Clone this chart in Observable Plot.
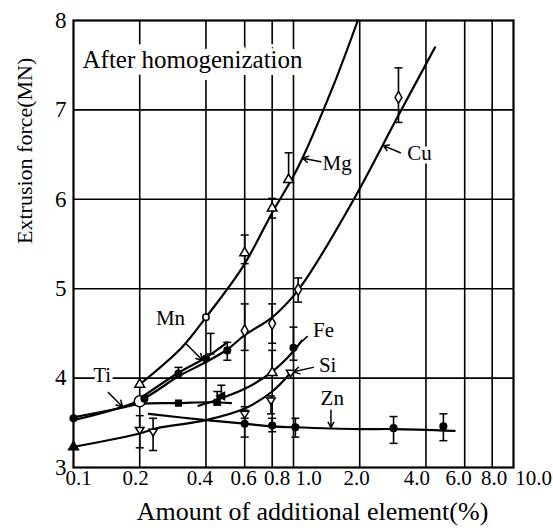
<!DOCTYPE html>
<html><head><meta charset="utf-8">
<script src="https://cdn.jsdelivr.net/npm/d3@7"></script>
<script src="https://cdn.jsdelivr.net/npm/@observablehq/plot@0.6"></script>
<style>body{margin:0;background:#fff;} svg text{font-family:"Liberation Serif","Times New Roman",serif;}</style>
</head><body><div id="chart"></div>
<script>
// ---- axis ticks ----
const xTicks = [0.1, 0.2, 0.4, 0.6, 0.8, 1, 2, 4, 6, 8, 10];
const xTickLabels = ["0.1", "0.2", "0.4", "0.6", "0.8", "1.0", "2.0", "4.0", "6.0", "8.0", "10.0"];
const xGrid = [0.2, 0.4, 0.6, 0.8, 1, 2, 4, 6, 8];
const yTicks = [3, 4, 5, 6, 7, 8];
const yTickLabels = ["3", "4", "5", "6", "7", "8"];
const yGrid = [4, 5, 6, 7];

// ---- curves [amount %, force MN] ----
const mgLine = [[0.2,3.93],[0.31,4.34],[0.4,4.68],[0.59,5.25],[0.8,5.85],[1.05,6.36],[1.5,7.24],[1.96,8.0]];
const cuLine = [[0.1,3.53],[0.2,3.75],[0.3,4.02],[0.4,4.18],[0.5,4.32],[0.6,4.48],[0.8,4.68],[1.0,4.92],[1.17,5.15],[1.9,6.02],[2.97,6.92],[4.4,7.7]];
const mnLine = [[0.2,3.77],[0.3,4.06],[0.4,4.23],[0.5,4.4]];
const tiLine = [[0.1,3.56],[0.16,3.66],[0.2,3.71],[0.3,3.72],[0.42,3.73],[0.52,3.72]];
const feLine = [[0.37,3.69],[0.44,3.75],[0.6,3.88],[0.79,4.06],[1.0,4.3],[1.09,4.42]];
const siLine = [[0.1,3.23],[0.2,3.38],[0.24,3.44],[0.4,3.53],[0.6,3.66],[0.8,3.85],[0.97,4.06]];
const znLine = [[0.22,3.6],[0.4,3.53],[0.6,3.49],[0.8,3.46],[1.0,3.45],[2.0,3.43],[2.85,3.43],[5.4,3.41]];

// ---- measured points by marker kind ----
const openTriangles = [[0.2,3.93],[0.6,5.4],[0.8,5.9],[0.95,6.22],[0.8,4.06]];
const openDiamonds = [[0.6,4.53],[0.8,4.61],[1.05,4.99],[3.0,7.14]];
const openCircles = [[0.4,4.68]];
const bigOpenCircles = [[0.2,3.74]];
const filledCircles = [[0.1,3.55],[0.21,3.77],[0.3,4.05],[0.4,4.22],[0.5,4.31],[1.0,4.34],[0.6,3.49],[0.8,3.47],[1.02,3.45],[2.85,3.44],[4.8,3.46]];
const filledSquares = [[0.3,3.72],[0.45,3.73]];
const filledTriangles = [[0.1,3.23]];
const openInvTriangles = [[0.2,3.42],[0.23,3.40],[0.6,3.6],[0.79,3.75],[0.97,4.06]];
const leftTriangles = [[0.47,3.8]];

// ---- error bars [x, low, high] ----
const errorBars = [
  [0.6,5.28,5.6],[0.8,5.79,6.01],[0.95,6.22,6.52],
  [0.6,4.31,4.83],[0.8,4.39,4.83],[1.05,4.85,5.12],[3.0,6.86,7.47],
  [0.3,4.0,4.12],[0.42,4.27,4.5],[0.5,4.2,4.4],
  [0.47,3.78,3.92],[0.8,4.06,4.31],[1.0,4.2,4.57],
  [0.2,3.22,3.58],[0.23,3.19,3.55],[0.6,3.55,3.68],[0.79,3.6,3.8],
  [0.6,3.34,3.64],[0.8,3.4,3.55],[1.02,3.34,3.55],[2.85,3.27,3.57],[4.8,3.3,3.6],
  [0.45,3.7,3.85]
];

// ---- labels ----
const elementNames = ["Mg","Cu","Mn","Fe","Si","Zn","Ti"];
const labelX = [1.58, 3.74, 0.276, 1.37, 1.43, 1.50, 0.135];
const labelY = [6.40, 6.52, 4.67, 4.53, 4.14, 3.77, 4.03];
// arrows [x1,y1,x2,y2]
const labelArrows = [
  [1.33,6.42,1.1,6.46],
  [3.06,6.52,2.56,6.6],
  [0.323,4.39,0.386,4.2],
  [1.23,4.12,1.0,4.07],
  [1.48,3.64,1.48,3.45],
  [0.144,3.84,0.167,3.68]
];
const feTick = [[1.08,4.4,1.16,4.47]];
const title = "After homogenization";
const xLabel = "Amount of additional element(%)";
const yLabel = "Extrusion force(MN)";

// ---- layout (pixel nudges of the x tick labels, as in the original) ----
const xLabelNudge = [5, -4, -6, -1, 5, 15, -3, -9, -6, 2, 20];

// ---- build tables ----
const seriesLines = [["Mg",mgLine],["Cu",cuLine],["Mn",mnLine],["Ti",tiLine],["Fe",feLine],["Si",siLine],["Zn",znLine]]
  .flatMap(([name, pts]) => pts.map(([x, y]) => ({name, x, y})));
const labels = elementNames.map((t, i) => ({text: t, x: labelX[i], y: labelY[i]}));
const caps = errorBars.flatMap(([x, lo, hi]) => [[x, lo], [x, hi]]);

const capSym = {draw(ctx, size) { const r = Math.sqrt(size / Math.PI); ctx.moveTo(-r, 0); ctx.lineTo(r, 0); }};
const invTriSym = {draw(ctx, size) { const r = Math.sqrt(size / Math.PI) * 1.25; ctx.moveTo(-r, -r * 0.6); ctx.lineTo(r, -r * 0.6); ctx.lineTo(0, r * 1.0); ctx.closePath(); }};
const leftTriSym = {draw(ctx, size) { const r = Math.sqrt(size / Math.PI) * 1.25; ctx.moveTo(-r, 0); ctx.lineTo(r * 0.7, -r * 0.8); ctx.lineTo(r * 0.7, r * 0.8); ctx.closePath(); }};

const px = d => d[0], py = d => d[1];
const dotStyle = {stroke: "black", strokeWidth: 1.5};
const serif = "Liberation Serif";

const xTickTextMarks = xTicks.map((t, i) =>
  Plot.text([t], {x: d => d, text: () => xTickLabels[i], frameAnchor: "bottom", dy: 17, dx: xLabelNudge[i], fontSize: 21, fontFamily: serif, fill: "black"})
);

const chart = Plot.plot({
  width: 553,
  height: 528,
  marginLeft: 73,
  marginRight: 40,
  marginTop: 20,
  marginBottom: 61,
  x: {type: "log", domain: [0.1, 10], axis: null},
  y: {domain: [3, 8], axis: null},
  style: {fontFamily: serif, background: "white", color: "black"},
  marks: [
    Plot.gridX({ticks: xGrid, stroke: "black", strokeOpacity: 1, strokeWidth: 1.6}),
    Plot.gridY({ticks: yGrid, stroke: "black", strokeOpacity: 1, strokeWidth: 1.6}),
    Plot.text([title], {frameAnchor: "top-left", dx: 9, dy: 30, textAnchor: "start", fontSize: 25, fontFamily: serif, fill: "black", stroke: "white", strokeWidth: 14, paintOrder: "stroke"}),
    Plot.line(seriesLines, {x: "x", y: "y", z: "name", curve: "catmull-rom", stroke: "black", strokeWidth: 2.2}),
    Plot.ruleX(errorBars, {x: d => d[0], y1: d => d[1], y2: d => d[2], stroke: "black", strokeWidth: 1.6}),
    Plot.dot(caps, {x: px, y: py, symbol: capSym, r: 4, ...dotStyle}),
    Plot.dot(openTriangles, {x: px, y: py, symbol: "triangle", r: 3.6, fill: "white", ...dotStyle}),
    Plot.dot(openDiamonds, {x: px, y: py, symbol: "diamond", r: 3.6, fill: "white", ...dotStyle}),
    Plot.dot(openCircles, {x: px, y: py, symbol: "circle", r: 3.2, fill: "white", ...dotStyle}),
    Plot.dot(bigOpenCircles, {x: px, y: py, symbol: "circle", r: 5.5, fill: "white", ...dotStyle}),
    Plot.dot(filledCircles, {x: px, y: py, symbol: "circle", r: 3.3, fill: "black", ...dotStyle}),
    Plot.dot(filledSquares, {x: px, y: py, symbol: "square", r: 3.2, fill: "black", ...dotStyle}),
    Plot.dot(filledTriangles, {x: px, y: py, symbol: "triangle", r: 3.6, fill: "black", ...dotStyle}),
    Plot.dot(openInvTriangles, {x: px, y: py, symbol: invTriSym, r: 3.4, fill: "white", ...dotStyle}),
    Plot.dot(leftTriangles, {x: px, y: py, symbol: leftTriSym, r: 3.6, fill: "black", ...dotStyle}),
    Plot.text(labels, {x: "x", y: "y", text: "text", fontSize: 21, fontFamily: serif, fill: "black", stroke: "white", strokeWidth: 7, paintOrder: "stroke"}),
    Plot.arrow(labelArrows, {x1: d => d[0], y1: d => d[1], x2: d => d[2], y2: d => d[3], stroke: "black", strokeWidth: 1.5, headLength: 7, bend: 0}),
    Plot.link(feTick, {x1: d => d[0], y1: d => d[1], x2: d => d[2], y2: d => d[3], stroke: "black", strokeWidth: 1.5}),
    Plot.frame({stroke: "black", strokeWidth: 2.2}),
    ...xTickTextMarks,
    Plot.text(yTicks, {y: d => d, text: (d, i) => yTickLabels[i], frameAnchor: "left", dx: -7, textAnchor: "end", fontSize: 23, fontFamily: serif, fill: "black"}),
    Plot.text([yLabel], {frameAnchor: "left", dx: -49, rotate: -90, fontSize: 22, fontFamily: serif, fill: "black"}),
    Plot.text([xLabel], {frameAnchor: "bottom", dx: 19, dy: 52, fontSize: 26, fontFamily: serif, fill: "black"})
  ]
});
document.getElementById("chart").appendChild(chart);
</script>
</body></html>
